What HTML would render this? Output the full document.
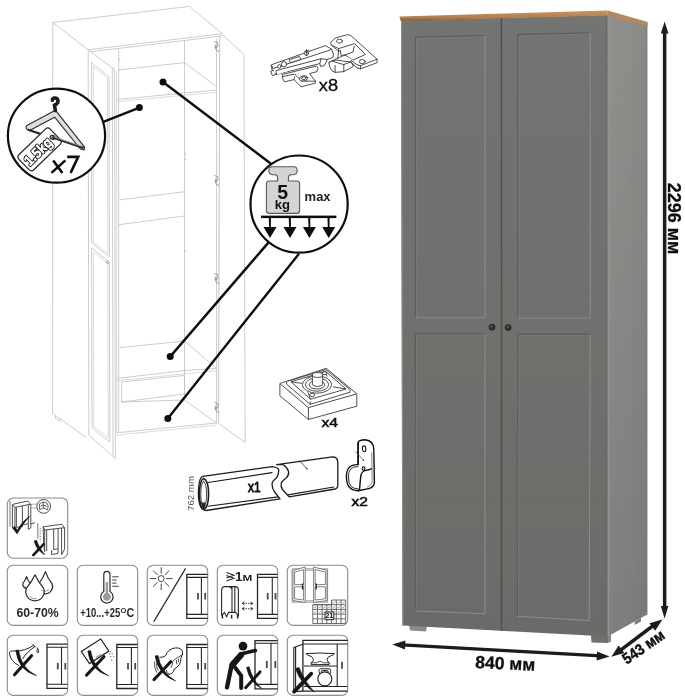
<!DOCTYPE html>
<html><head><meta charset="utf-8">
<style>
html,body{margin:0;padding:0;background:#fff;}
body{width:685px;height:700px;overflow:hidden;font-family:"Liberation Sans",sans-serif;}
svg{display:block}
text{font-family:"Liberation Sans",sans-serif;}
#all{filter:url(#soft2)}
</style></head><body>
<svg width="685" height="700" viewBox="0 0 685 700">
<defs>
<linearGradient id="gFront" x1="0" y1="0" x2="0" y2="1"><stop offset="0" stop-color="#737472"/><stop offset="1" stop-color="#6b6b69"/></linearGradient>
<linearGradient id="gSide" x1="0" y1="0" x2="0" y2="1"><stop offset="0" stop-color="#8f8f8c"/><stop offset="0.5" stop-color="#878785"/><stop offset="1" stop-color="#7e7e7c"/></linearGradient>
<linearGradient id="gSideH" x1="0" y1="0" x2="1" y2="0"><stop offset="0" stop-color="#fff" stop-opacity="0.04"/><stop offset="0.4" stop-color="#000" stop-opacity="0"/><stop offset="1" stop-color="#000" stop-opacity="0.05"/></linearGradient>
<linearGradient id="gWood" x1="0" y1="0" x2="0" y2="1"><stop offset="0" stop-color="#c89660"/><stop offset="0.7" stop-color="#b67d49"/><stop offset="1" stop-color="#7a5232"/></linearGradient>
<filter id="soft2" x="0" y="0" width="100%" height="100%" filterUnits="userSpaceOnUse"><feGaussianBlur stdDeviation="0.35"/></filter>
<filter id="soft" x="-5%" y="-5%" width="110%" height="110%"><feGaussianBlur stdDeviation="0.45"/></filter>
</defs>
<rect width="685" height="700" fill="#fff"/>
<g id="all">


<!-- ===================== LINE DRAWING (left) ===================== -->
<g id="linedraw" fill="none" stroke="#c6c6c6" stroke-width="0.9" stroke-linejoin="round">
<!-- top face -->
<polygon points="52.8,22.5 189.3,6.4 222.4,33.7 88.2,49.8" fill="#fff"/>
<polyline points="88.2,52 118.7,48.4 222,36"/>
<!-- left side -->
<polyline points="52.800,22.500 52.600,413.500 86.400,437.600"/>
<polyline points="55.500,415.600 55.500,418.400 60,421.400 60,418.800"/>
<!-- left door (open) -->
<polygon points="88.200,49.800 114.600,69.600 115.400,458.500 88.800,435" fill="#fff"/>
<line x1="112.300" y1="68" x2="113" y2="456.400"/>
<polygon points="91.400,62.600 109,76.800 109.400,257 91.600,243"/>
<polygon points="91.600,248 109.400,262 109.800,442 92,428"/>
<polygon points="93.200,66.600 107.400,78 107.800,253.600 93.400,242.200" stroke="#d6d6d6"/>
<polygon points="93.400,252 107.800,263.400 108.200,438 93.800,426.600" stroke="#d6d6d6"/>
<!-- carcass opening -->
<line x1="118.700" y1="48.400" x2="118.700" y2="432.600"/>
<line x1="116.600" y1="71.500" x2="116.600" y2="432.800" stroke="#d6d6d6"/>
<line x1="216.600" y1="38.600" x2="216.600" y2="423"/>
<line x1="219.800" y1="36" x2="218.600" y2="423.400"/>
<!-- interior verticals -->
<line x1="184.500" y1="40.200" x2="184.500" y2="400"/>
<!-- top shelf -->
<polyline points="118.700,70 184.500,62.600 216.600,86.800"/>
<polyline points="116.600,99.500 216.600,90"/>
<polyline points="116.600,101.600 216.600,92.200" stroke="#d6d6d6"/>
<!-- mid band -->
<polyline points="118.700,200 184.500,191.700"/><polyline points="118.700,224.700 184.500,216"/>
<!-- lower shelves -->
<polyline points="120,347.600 184.500,341"/>
<polyline points="116.600,378.400 184.500,370.600 216.600,368.400"/>
<polyline points="116.600,380.800 216.600,370.600" stroke="#d6d6d6"/>
<polyline points="184.500,341 216.600,368.400"/>
<polyline points="121.600,382 184.500,375.400 184.500,394 121.600,402 121.600,382"/>
<polyline points="116.600,432.800 216.600,423"/>
<polyline points="116.600,435 216.600,425.200" stroke="#d6d6d6"/>
<polyline points="184.500,400 216.600,423"/>
<line x1="121.600" y1="402" x2="184.500" y2="400"/>
<!-- right door (open) -->
<polygon points="222.400,34.400 243.900,54.600 245.200,442.400 218.600,423.400 219.800,36" fill="#fff"/>
<!-- hinges on right -->
<g stroke="#8a8a8a" stroke-width="0.8">
<path d="M214.200,41.600 l3.400,0.800 l0.400,3.600 l-2.600,0.400 l0.600,3.600 l3.200,1.800 M215,44.600 l2.200,3.400 M214.400,47 l2,1"/>
<path d="M214.200,175.600 l3.400,0.800 l0.400,3.600 l-2.600,0.400 l0.600,3.600 l3.200,1.800 M215,178.600 l2.200,3.400 M214.400,181 l2,1"/>
<path d="M214.200,273.600 l3.400,0.800 l0.400,3.600 l-2.600,0.400 l0.600,3.600 l3.200,1.800 M215,276.600 l2.200,3.400 M214.400,279 l2,1"/>
<path d="M214.200,402.600 l3.400,0.800 l0.400,3.600 l-2.600,0.400 l0.600,3.600 l3.200,1.800 M215,405.600 l2.200,3.400 M214.400,408 l2,1"/>
</g>
<circle cx="107.600" cy="262.400" r="1.300" stroke="#999"/>
<path d="M119.600,58.600 v1.600 M185.600,153 v1.400 M185.600,158.600 v1.400 M185.600,250 v1.400" stroke="#bbb"/>
</g>

<!-- ===================== CALLOUTS ===================== -->
<g id="callouts" stroke="#111" stroke-width="2.4" stroke-linecap="round" fill="none">
<line x1="104" y1="121.6" x2="139.4" y2="107.6"/>
<line x1="163" y1="82" x2="270" y2="163"/>
<line x1="268.6" y1="242.4" x2="170.2" y2="356.6"/>
<line x1="298.4" y1="254.4" x2="167.8" y2="418.6"/>
</g>
<g fill="#111">
<circle cx="139.4" cy="107.6" r="3.5"/><circle cx="163" cy="82" r="3.5"/>
<circle cx="170.2" cy="356.6" r="3.5"/><circle cx="167.8" cy="418.6" r="3.5"/>
</g>
<!-- hanger circle -->
<g id="hanger">
<ellipse cx="56.5" cy="135.7" rx="48.6" ry="47" fill="#fff" stroke="#111" stroke-width="2.2"/>
<!-- hanger body -->
<path d="M26.400,125.800 L55.400,110.200 L84.600,147.200 L84.200,150 L80.400,149 L54.600,117.200 L29.600,130.600 Q24.800,129.400 26.400,125.800 Z" fill="#dedede" stroke="#2a2a2a" stroke-width="1.100" stroke-linejoin="round"/>
<path d="M28.800,130 L48,136.400" fill="none" stroke="#2a2a2a" stroke-width="2.300" stroke-linecap="round"/>
<!-- hook -->
<path d="M55.400,110.600 L54.400,105.200 Q58.200,103.800 58,100.600 Q57.400,97.600 54.400,98 Q52.600,98.400 52.400,100.200" fill="none" stroke="#1a1a1a" stroke-width="3.600" stroke-linecap="round" stroke-linejoin="round"/>
<!-- tag -->
<g transform="translate(39.6,149.4) rotate(-44)">
<rect x="-21.7" y="-10.6" width="43.400" height="21.200" rx="3.400" fill="#fff" stroke="#222" stroke-width="1.200"/>
<text x="-19" y="5.400" font-size="14.600" fill="#fff" stroke="#222" stroke-width="2.300" paint-order="stroke" font-weight="700" textLength="33" lengthAdjust="spacingAndGlyphs" stroke-linejoin="round">1.5kg</text>
<text x="-19" y="5.400" font-size="14.600" fill="#fff" font-weight="700" textLength="33" lengthAdjust="spacingAndGlyphs">1.5kg</text>
</g>
<ellipse cx="52.600" cy="137.400" rx="2.600" ry="1.900" transform="rotate(18 52.6 137.4)" fill="#999" stroke="#222" stroke-width="1"/>
<path d="M53.400,137.600 L82.600,147.600" fill="none" stroke="#2a2a2a" stroke-width="2.400" stroke-linecap="round"/>
<path d="M54.600,137.200 L81,146.200" fill="none" stroke="#bbb" stroke-width="0.700" stroke-linecap="round"/>
<g fill="none" stroke="#111" stroke-width="2.600" stroke-linecap="butt" stroke-linejoin="miter">
<path d="M53.200,160.400 L62.400,172.900 M65.400,160.400 L51.400,172.900"/>
<path d="M67.200,156.900 L78.200,156.900 L70.600,172.900"/>
</g>
</g>
<!-- 5kg circle -->
<g id="load">
<circle cx="299.1" cy="204.1" r="48.6" fill="#fff" stroke="#111" stroke-width="2.2"/>
<path d="M272.4,166.8 H293.6 Q297.2,166.8 297.2,170.6 Q297.2,174.6 293.4,174.8 H291 Q288.4,175 288.4,178 V181 H296.6 Q299.6,181 299.6,184 V210.400 Q299.600,213.400 296.600,213.400 H269.400 Q266.400,213.400 266.400,210.400 V184 Q266.400,181 269.400,181 H277.600 V178 Q277.600,175 275,174.800 H272.600 Q268.800,174.600 268.800,170.600 Q268.800,166.800 272.400,166.800 Z" fill="#d4d4d4" stroke="#5a5a5a" stroke-width="1.1"/>
<text x="282.8" y="199.400" font-size="19.500" font-weight="700" text-anchor="middle" fill="#111">5</text>
<text x="282.300" y="209" font-size="13" font-weight="700" text-anchor="middle" fill="#111">kg</text>
<text x="317.600" y="200.800" font-size="13" font-weight="700" text-anchor="middle" fill="#222">max</text>
<rect x="261" y="215.600" width="75.400" height="2.500" fill="#111"/>
<g fill="#111">
<path d="M268.7,217 h2.200 v10 h5.600 l-6.500,11 l-6.500,-11 h5.600 z"/>
<path d="M288.7,217 h2.200 v10 h5.600 l-6.500,11 l-6.500,-11 h5.600 z"/>
<path d="M308.1,217 h2.200 v10 h5.600 l-6.500,11 l-6.500,-11 h5.600 z"/>
<path d="M327.4,217 h2.200 v10 h5.600 l-6.500,11 l-6.500,-11 h5.600 z"/>
</g>
</g>


<!-- ===================== HARDWARE ===================== -->
<g id="hinge" fill="#fff" stroke="#3a3a3a" stroke-width="0.9" stroke-linejoin="round" stroke-linecap="round">
<!-- mounting plate under arm -->
<path d="M282.6,74.4 L316.6,66 L318,68.4 L317,71.6 L309.6,73.6 L315.4,81.2 L315.2,83.2 L301,86.800 L294,79.600 L284.400,81.800 L282.600,78.600 Z"/>
<path d="M282.6,76.6 L294.6,74 L301.4,81 L315.4,81.2 M294,79.6 L294.6,77"/>
<ellipse cx="303.600" cy="78.400" rx="4.200" ry="2.600" transform="rotate(-12 303.6 78.4)"/>
<ellipse cx="303.900" cy="78.300" rx="2.300" ry="1.400" transform="rotate(-12 303.9 78.300)"/>
<!-- arm -->
<path d="M271.400,64.800 L325.400,45.600 L331.600,49.200 L333.400,54 L333,57.400 L327.600,59.400 L324.400,65.600 L320.600,66.600 L319.800,63.600 L276.600,74.400 L273,72.400 Z"/>
<path d="M273,68.600 L327.800,50.800 L331.600,49.200 M273,68.600 L272,66 M276.600,74.400 L276,70.600 L321,58.800 L327.600,59.400 M321,58.800 L319.800,63.600"/>
<path d="M289.400,59.600 L299.400,56.400 L300.800,59.400 L290.800,62.600 Z"/>
<circle cx="284" cy="64.200" r="2.600"/><circle cx="279.400" cy="66.400" r="1.800"/>
<circle cx="306.400" cy="53.400" r="2"/><path d="M304.800,51.200 L308.200,50.400 M306.600,49.600 L306.400,55.600" />
<path d="M273.600,70.400 L270.600,71.400 L272.400,75.600 L275.600,74.600"/>
<!-- cup body (behind flange) -->
<path d="M328.9,62.7 Q329.4,68.6 331.8,70.6 L335.1,72.4 L343.8,71.6 L353.500,66.200 L350.800,61.800 L352.6,59.2 L345,55 L337.700,58.300 Z"/>
<path d="M328.900,62.700 Q334,58.600 342.100,60.900 Q347,62 350.800,61.800 M335.100,65.400 V72.400 M343.800,64.600 V71.600 M332.400,61 Q337,63 343.800,64.600 L350.800,61.800"/>
<!-- cup flange -->
<path d="M330.700,42.500 L335.100,38.100 L347.300,34.600 L350.800,35.500 L377.100,59.200 L377.100,62.700 L360.500,68.800 L357,67.900 L350.800,61.800 L352.600,59.200 L362.200,53.900 L354.300,46 L340.300,50.400 L338.600,51.300 L331.600,45.100 Z"/>
<path d="M331.600,45.100 L338.600,48.600 L354.600,43.600 L365.400,54.400 L353.400,60 M377.100,59.200 L360.500,65.600 L357,64.800 L351.600,60.600 M360.500,65.600 V68.800 M338.600,48.600 V51.300"/>
<path d="M338.600,51.300 L337.700,58.300 M340.300,50.400 L341,55.400 L345,55 M354.300,46 L353,52 L345,55" />
<ellipse cx="339.500" cy="41.100" rx="3" ry="2"/>
<ellipse cx="362.200" cy="61.600" rx="3" ry="2"/>
</g>
<text x="318.8" y="90.7" font-size="16.8" fill="#111" stroke="#111" stroke-width="0.35" textLength="19.2" lengthAdjust="spacingAndGlyphs">x8</text>

<g id="foot" fill="#fff" stroke="#3a3a3a" stroke-width="0.9" stroke-linejoin="round">
<path d="M279.900,383.500 L326.400,368.300 L356.800,393.900 L356.800,406.200 L308.400,419.500 L279.900,395.800 Z"/>
<path d="M279.900,383.500 L308.400,407.600 L356.800,393.900 M308.400,407.600 L308.400,419.500"/>
<path d="M286.600,381.600 L326,369.600 L350,389.600 L310.200,401.600 Z"/>
<path d="M286.600,381.600 L286.600,384.200 L310.200,404.400 L350,392.200 L350,389.600 M310.200,401.600 L310.200,404.400"/>
<path d="M291,381.800 L325.600,371.400 L346,389 L310.600,399.200 Z"/>
<path d="M291,381.800 L302,383.400 M325.600,371.400 L327,376.600 M346,389 L333,386.800 M310.600,399.200 L308,392.400"/>
<ellipse cx="317" cy="384.600" rx="14.600" ry="8.600"/>
<ellipse cx="317" cy="384.600" rx="11.600" ry="6.600"/>
<ellipse cx="317" cy="384.800" rx="7.800" ry="4.200"/>
<path d="M312.400,375 L312.400,384.800 Q317.600,388.200 322.600,384.800 L322.600,375"/>
<ellipse cx="317.500" cy="375" rx="5.100" ry="2.400"/>
<ellipse cx="324.600" cy="373.200" rx="2.300" ry="1.500"/>
<ellipse cx="312.200" cy="395" rx="2.500" ry="1.600"/>
</g>
<text x="321.5" y="426.5" font-size="12.8" fill="#111" stroke="#111" stroke-width="0.5" textLength="16.6" lengthAdjust="spacingAndGlyphs">x4</text>

<g id="rail" fill="#fff" stroke="#1c1c1c" stroke-width="1.3" stroke-linejoin="round" stroke-linecap="round">
<text x="0" y="0" transform="translate(194,511) rotate(-90)" font-size="9.2" fill="#555" stroke="none" textLength="35" lengthAdjust="spacingAndGlyphs">762 mm</text>
<!-- left piece -->
<path d="M202.8,476.4 L272.1,466.700 Q279.600,467.600 278.700,471.300 Q278.400,474.600 276.700,477.800 Q271.600,481.400 272.100,484.400 Q272.100,488 274,491 Q276.600,494.600 280,498.900 L206.300,510.500 Q198.600,510.400 198.400,494 Q198.600,477 202.800,476.400 Z"/>
<path d="M208,482.500 L272.100,472.600 M208,506.200 L278,496.900" fill="none" stroke-width="1.1"/>
<path d="M203.600,478.400 Q208.600,480.400 208.600,494 Q208.400,507 204,509.600 Q199.600,508.400 199.400,494 Q199.600,480.400 203.600,478.400 Z" stroke-width="1.6"/>
<path d="M203.600,481.400 Q206.600,483.400 206.600,494 Q206.400,501.600 205.600,503 L201.600,503 Q200.800,500 200.800,494 Q200.800,483.400 203.600,481.400 Z" fill="#fff" stroke-width="0.8"/>
<path d="M201.600,503.200 L205.600,503.200 Q205,508 203.800,509 Q202,508 201.600,503.200 Z" fill="#222" stroke-width="0.6"/>
<!-- right piece -->
<path d="M276.700,464.700 L332.500,456.800 Q337.600,456.800 337.800,462.100 L337.800,485.700 Q337.600,488.400 335.100,489 L289.200,496.900 Q285.400,492.600 282.600,489.700 Q280.400,486.400 281.300,483.100 Q282.600,480.400 286.500,477.800 Q289.400,474.600 288.500,471.300 Q287.600,467.600 283.200,464.700 Z"/>
<path d="M287.800,494.900 L333.800,487" fill="none" stroke-width="1.1"/>
<path d="M299.700,460.800 L306.600,468.400" stroke="#333" stroke-width="0.8"/><circle cx="306.900" cy="468.700" r="0.800" fill="#222" stroke="none"/>
</g>
<text x="248.1" y="492.2" font-size="15.5" fill="#111" stroke="#111" stroke-width="0.9" textLength="12.6" lengthAdjust="spacingAndGlyphs">x1</text>

<g id="bracket" fill="#fff" stroke="#111" stroke-width="1.4" stroke-linejoin="round" stroke-linecap="round">
<path d="M358.1,442.6 Q358.6,439.8 365.300,439.700 Q373.600,440.600 373.800,449.400 L374.400,482.600 Q373.600,487.600 368.600,488.600 L358.100,490.700 Z"/>
<path d="M371.800,453 L372.200,482 Q371.400,486 367.400,487" fill="none" stroke-width="0.8" stroke="#666"/>
<path d="M358.100,464.600 Q352,464.400 349.200,467.400 Q346.200,471 346.400,477 Q346.600,484 349.600,487.600 Q352.600,490.600 358.100,490.700 L359.600,489 Q360.200,480 361,474.600 Q362,471.600 364.600,470.600 L367.800,470 L371.400,468.800" fill="#fff"/>
<path d="M358.100,466.600 Q353,466.400 350.600,469 Q348.200,472 348.400,477 Q348.600,483.400 351,486.400 Q353.600,488.800 357.800,488.800" fill="none" stroke-width="0.9"/>
<path d="M358.100,442.600 V464.600" />
<ellipse cx="364.100" cy="448.800" rx="1.700" ry="2.900" transform="rotate(-8 364.1 448.8)" stroke-width="1.1"/>
<ellipse cx="363.600" cy="468.600" rx="1.400" ry="1.700" stroke-width="1.1"/>
<path d="M355.600,451.800 L363.300,460" stroke-width="0.7" stroke="#444"/><circle cx="363.500" cy="460.300" r="0.700" fill="#222" stroke="none"/>
</g>
<text x="351.4" y="505.8" font-size="13.6" fill="#111" stroke="#111" stroke-width="0.6" textLength="16.4" lengthAdjust="spacingAndGlyphs">x2</text>

<!-- ===================== ICONS ===================== -->
<g id="icons">
<rect x="7.3" y="498" width="60.4" height="60.2" rx="6" fill="#fff" stroke="#8c8c8c" stroke-width="1.1"/>
<g fill="none" stroke="#3a3a3a" stroke-width="0.9" stroke-linejoin="round">
<path d="M10,501 V526.8" stroke="#666"/>
<path d="M12.4,504.4 L27.8,501 L30.8,504.4 V527.8 L28.3,529.3 V504.6 L14.9,507.4 V527.8 L12.4,527.8 Z"/>
<path d="M12.4,504.4 L14.9,507.4 M28.3,504.6 L30.8,504.4 M16.4,507.2 V527.4 M22.4,506 V524.8 L28.3,523.8 M16.4,527.4 L22.4,526.4 V524.8 M30.8,523.8 L34.8,522.8"/>
<circle cx="43.7" cy="506.4" r="6.9"/>
<path d="M39.6,503.6 L43.2,502 L46.6,503 L48.2,505.6 M39.6,503.6 V509.6 L43.4,508 L47.6,509.8 L48.2,505.6 M43.2,502 L43.4,508 M40.6,506 L43,505 L46.8,506.4" stroke-width="0.8"/>
<path d="M30.8,504.4 L37,504 M30.8,507.6 L37.2,508.6" stroke="#888" stroke-width="0.6"/>
<path d="M37.8,523.3 V538.7" stroke="#666"/>
<path d="M40.2,527.8 V542" stroke-dasharray="1.4 1.3" stroke="#666"/>
<path d="M43.2,526.8 L61.6,524.3 L64.6,527.8 V549.1 L61.6,554.6 V528 L44.7,530 V551.6 L43.6,542 Z"/>
<path d="M43.2,526.8 L44.7,530 M61.6,528 L64.6,527.8 M46.7,530 V551 M53.7,529 V549.6 L58.1,548.8 V528.6 M51.7,554.6 L58.1,553.2 V548.8 M51.7,554.6 V550"/>
</g>
<path d="M12.7,527.9 L14.7,526.4 L17.3,530.2 Q22,521.6 29.5,516.2 Q22.6,524 17,533.8 Z" fill="#141414" stroke="#141414" stroke-width="0.7" stroke-linejoin="round"/>
<path d="M36.5,540.3 Q39.6,549.3 44.9,554.8 Q37,551.2 34.1,541.1 Z" fill="#141414" stroke="#141414" stroke-width="0.6" stroke-linejoin="round"/><path d="M43.7,544.2 L33.3,555.1" fill="none" stroke="#141414" stroke-width="2.6" stroke-linecap="round"/>
<rect x="7.3" y="565.2" width="60.4" height="60.2" rx="6" fill="#fff" stroke="#8c8c8c" stroke-width="1.1"/>
<g fill="#fff" stroke="#2a2a2a" stroke-width="1.2" stroke-linejoin="round"><path d="M45.4,571.6 Q47.6,578.3 52,583.7 A7.2,7.2 0 1 1 38.8,583.7 Q43.2,578.3 45.4,571.6 Z"/><path d="M26.6,576.6 Q27.7,580.2 30.1,583.1 A3.8,3.8 0 1 1 23.1,583.1 Q25.5,580.2 26.6,576.6 Z"/><path d="M35,574.8 Q37.8,581.2 43.5,588.1 A9.2,9.2 0 1 1 26.5,588.1 Q32.2,581.2 35,574.8 Z"/></g>
<path d="M29.6,596.4 Q32.4,599.4 36.6,598.8 M41.4,590.4 Q45,592.4 49.4,589.8 M24.4,586.6 Q26,587.8 28,587.4" fill="none" stroke="#666" stroke-width="0.7"/>
<text x="37.6" y="616.6" font-size="12.4" font-weight="700" text-anchor="middle" fill="#2a2a2a" textLength="42.4" lengthAdjust="spacingAndGlyphs">60-70%</text>
<rect x="77.3" y="565.2" width="60.4" height="60.2" rx="6" fill="#fff" stroke="#8c8c8c" stroke-width="1.1"/>
<g stroke="#2a2a2a" stroke-width="1.2" fill="#fff">
<path d="M103.8,591.6 V574.6 Q103.8,571.4 106.9,571.4 Q110,571.4 110,574.6 V591.6 A6.2,6.2 0 1 1 103.8,591.6 Z"/>
<path d="M105.7,593 V582 H108.1 V593 A4,4 0 1 1 105.7,593 Z" fill="#9a9a9a" stroke="none"/>
<path d="M112.2,576.8 H118.6 M112.2,580 H116.6 M112.2,583.1 H116.6 M112.2,586.3 H118.6" stroke-width="0.9" fill="none"/></g>
<text x="80.2" y="616.6" font-size="12.4" font-weight="700" fill="#2a2a2a" textLength="40" lengthAdjust="spacingAndGlyphs">+10...+25</text>
<text x="120.6" y="612.6" font-size="7.6" font-weight="700" fill="#2a2a2a">O</text>
<text x="126.6" y="616.6" font-size="12.4" font-weight="700" fill="#2a2a2a" textLength="7.8" lengthAdjust="spacingAndGlyphs">C</text>
<rect x="147.3" y="565.2" width="60.4" height="60.2" rx="6" fill="#fff" stroke="#8c8c8c" stroke-width="1.1"/>
<g fill="none" stroke="#3a3a3a" stroke-width="0.95"><circle cx="161.2" cy="578.6" r="3"/><path d="M166.2,578.6 L172.6,578.6 M164.7,582.1 L169.3,586.7 M161.2,583.6 L161.2,590 M157.7,582.1 L153.1,586.7 M156.2,578.6 L149.8,578.6 M157.7,575.1 L153.1,570.5 M161.2,573.6 L161.2,567.2 M164.7,575.1 L169.3,570.5 "/><path d="M185.6,568.4 L153.8,621.6" stroke="#2a2a2a" stroke-width="1.2"/></g>
<g fill="none" stroke="#262626" stroke-width="1.3" stroke-linejoin="miter">
<path d="M207.6,574.4 H186.8 V618.4 H207.6"/>
<path d="M186.8,577.4 H207.6 M186.8,614.4 H207.6 M201.4,577.4 V614.4" stroke-width="1.1"/>
<path d="M198,593.1 V599.4 M205.2,593.1 V599.4" stroke-width="1.8" stroke="#4a4a4a"/></g>
<rect x="217.3" y="565.2" width="60.4" height="60.2" rx="6" fill="#fff" stroke="#8c8c8c" stroke-width="1.1"/>
<g fill="none" stroke="#2a2a2a" stroke-width="1.1">
<path d="M226.4,572.4 L234,575.2 L226.4,578 M226.4,575.4 L234,578.2 L226.4,581" stroke-width="1.1"/>
<path d="M221.6,615.6 V590 Q221.6,586.6 225,586.6 H235 Q238.4,586.6 238.4,590 V615.6 L235.6,612.4 H228.6 L226.6,616.8 L224.4,612.4 L221.6,615.6 M232,587 V612.4 M234.8,587 V612.4 M229.4,587.4 Q231.4,587 232,589"/>
<path d="M222.4,615 V618.4 M231.6,615 V618.4 M237.6,615 V618.4" stroke-width="1.5"/>
<path d="M243,603.4 H252 M243,608.7 H252" stroke-dasharray="1.5 1" stroke-width="0.9"/>
<path d="M244.4,602 L242,603.4 L244.4,604.8 M250.6,602 L253,603.4 L250.6,604.8 M244.4,607.3 L242,608.7 L244.4,610.1 M250.6,607.3 L253,608.7 L250.6,610.1" stroke-width="0.9"/>
</g>
<text x="235" y="581.4" font-size="13.4" font-weight="700" fill="#222">1</text><text x="242.6" y="581.4" font-size="9.8" font-weight="700" fill="#222" textLength="9.8" lengthAdjust="spacingAndGlyphs">M</text>
<g fill="none" stroke="#262626" stroke-width="1.3" stroke-linejoin="miter">
<path d="M277.6,574.4 H257.5 V618.4 H277.6"/>
<path d="M257.5,577.4 H277.6 M257.5,614.4 H277.6 M272.3,577.4 V614.4" stroke-width="1.1"/>
<path d="M267.7,593.1 V599.4 M275.5,593.1 V599.4" stroke-width="1.8" stroke="#4a4a4a"/></g>
<rect x="287.3" y="565.2" width="60.4" height="60.2" rx="6" fill="#fff" stroke="#8c8c8c" stroke-width="1.1"/>
<g fill="none" stroke="#6a6a6a" stroke-width="0.85" stroke-linejoin="round"><path d="M292,568.8 H327.6 V602.2 H292 Z M293.4,570.2 H326.2 V600.8 H293.4 Z" stroke="#8a8a8a"/><path d="M293,570.4 L305.2,567 V602.4 L293,600.6 Z M294.6,572 L303.6,569.6 V584.6 H294.6 Z M294.6,586.8 H303.6 V600 L294.6,598.8 Z" fill="#fff"/><path d="M327,570.4 L313.6,567 V602.4 L327,600.6 Z M325.4,572 L315.2,569.6 V584.6 H325.4 Z M325.4,586.8 H315.2 V600 L325.4,598.8 Z" fill="#fff"/><path d="M302.6,583.4 V589.6 M316.2,583.4 V589.6" stroke="#333" stroke-width="1.5"/><path d="M331.6,600 H345.7 V623.5 H312.8 V604.7 H331.6 Z" fill="#fff" stroke="#555"/><path d="M312.8,604.7 H345.7 M312.8,609.4 H345.7 M312.8,614.1 H345.7 M312.8,618.8 H345.7 M317.5,604.7 V623.5 M322.2,604.7 V623.5 M326.9,604.7 V623.5 M331.6,600 V623.5 M336.3,600 V623.5 M341,600 V623.5" stroke="#555"/><path d="M332.8,602.4 l0.9,1 l1.5,-2 M337.5,602.4 l0.9,1 l1.5,-2 M342.2,602.4 l0.9,1 l1.5,-2 M314,607.1 l0.9,1 l1.5,-2 M318.7,607.1 l0.9,1 l1.5,-2 M323.4,607.1 l0.9,1 l1.5,-2 M328.1,607.1 l0.9,1 l1.5,-2 M332.8,607.1 l0.9,1 l1.5,-2 M337.5,607.1 l0.9,1 l1.5,-2 M342.2,607.1 l0.9,1 l1.5,-2 M314,611.8 l0.9,1 l1.5,-2 M318.7,611.8 l0.9,1 l1.5,-2 M323.4,611.8 l0.9,1 l1.5,-2 M328.1,611.8 l0.9,1 l1.5,-2 M332.8,611.8 l0.9,1 l1.5,-2 M337.5,611.8 l0.9,1 l1.5,-2 M342.2,611.8 l0.9,1 l1.5,-2" stroke="#888" stroke-width="0.7"/><rect x="325" y="612" width="8.8" height="7.7" fill="#eee" stroke="#222" stroke-width="1"/></g><text x="329.4" y="618.4" font-size="6.8" font-weight="700" text-anchor="middle" fill="#111">21</text>
<rect x="7.3" y="635.2" width="60.4" height="60.2" rx="6" fill="#fff" stroke="#8c8c8c" stroke-width="1.1"/>
<g fill="none" stroke="#222" stroke-width="1" stroke-linejoin="round" stroke-linecap="round">
<path d="M33.2,644.6 L35.2,646.9 M33.6,645.4 Q24,651.6 15,651 Q9.2,650.4 9.4,653.2 Q10.4,661.4 18.8,665.6 M34.8,646.6 Q25,653.6 23,658.6"/>
<path d="M37.5,648.2 Q39.8,651.6 37.9,653 Q35.8,652 37.5,648.2 Z" stroke-width="0.9"/></g>
<path d="M18.6,650 Q21.4,668.6 36.5,675.5 Q18.5,670.9 15.8,650.4 Z" fill="#141414" stroke="#141414" stroke-width="0.6" stroke-linejoin="round"/><path d="M31.6,655.7 L14.5,674.8" fill="none" stroke="#141414" stroke-width="3" stroke-linecap="round"/>
<g fill="none" stroke="#262626" stroke-width="1.3" stroke-linejoin="miter">
<path d="M67.6,644.1 H47 V688.3 H67.6"/>
<path d="M47,647.2 H67.6 M47,684.2 H67.6 M61.5,647.2 V684.2" stroke-width="1.1"/>
<path d="M57.8,663.1 V669.4 M65.3,663.1 V669.4" stroke-width="1.8" stroke="#4a4a4a"/></g>
<rect x="77.3" y="635.2" width="60.4" height="60.2" rx="6" fill="#fff" stroke="#8c8c8c" stroke-width="1.1"/>
<g fill="none" stroke="#222" stroke-width="1.2" stroke-linejoin="miter">
<path d="M81.3,651.5 L100.7,639 L108.9,651.1 L89.5,663.6 Z"/>
<path d="M96,657.4 L101,654.3" stroke-width="0.8" stroke="#666"/></g>
<g fill="#666"><circle cx="110.5" cy="651.8" r="0.65"/><circle cx="109.5" cy="654.1" r="0.65"/><circle cx="112.2" cy="653.8" r="0.65"/><circle cx="110.5" cy="656.7" r="0.65"/><circle cx="113.8" cy="656.7" r="0.65"/><circle cx="111.8" cy="660" r="0.65"/></g>
<path d="M90.6,650.6 Q93.4,668.2 108.6,675.8 Q90.4,670.4 87.8,651 Z" fill="#141414" stroke="#141414" stroke-width="0.6" stroke-linejoin="round"/><path d="M104,656.7 L86.5,675.1" fill="none" stroke="#141414" stroke-width="3" stroke-linecap="round"/>
<g fill="none" stroke="#262626" stroke-width="1.3" stroke-linejoin="miter">
<path d="M137.6,644.5 H116.8 V688.5 H137.6"/>
<path d="M116.8,647.5 H137.6 M116.8,684.5 H137.6 M131.4,647.5 V684.5" stroke-width="1.1"/>
<path d="M128,663.1 V669.4 M135.2,663.1 V669.4" stroke-width="1.8" stroke="#4a4a4a"/></g>
<rect x="147.3" y="635.2" width="60.4" height="60.2" rx="6" fill="#fff" stroke="#8c8c8c" stroke-width="1.1"/>
<g fill="none" stroke="#222" stroke-width="1" stroke-linejoin="round" stroke-linecap="round">
<path d="M159.8,657.4 Q163.6,657.4 165.7,655.7 Q166.6,652.4 169,650.5 Q172,648 175.6,647.9 Q179.4,647.6 180.9,649.2 Q182.8,651 182.5,653.1 Q182.4,655.6 180.9,657.7 Q181,662 179.5,664.3 Q177.6,667.4 174.3,668.9 Q173.6,672 171.7,673.5 Q170,674.6 168.4,674.1"/>
<path d="M182.4,654.4 Q178,657.6 174.3,659.7 Q172.6,661 172.3,663 Q172.6,665.6 171,667.6 M176.4,660.4 L176.8,664 M178.4,659.2 L178.6,662" stroke-width="0.8"/>
<path d="M154.6,661.7 Q153.8,667 156.5,672.2 M156.6,663 Q156,667 158,670.4 M166.4,670.4 Q166.8,672.6 168.4,674.1" stroke-width="0.8"/></g>
<path d="M157.9,655.5 Q161,672.3 175.6,681 Q158.1,674.6 155.1,655.9 Z" fill="#141414" stroke="#141414" stroke-width="0.6" stroke-linejoin="round"/><path d="M170.7,661.7 L153.9,679.7" fill="none" stroke="#141414" stroke-width="3" stroke-linecap="round"/>
<g fill="none" stroke="#262626" stroke-width="1.3" stroke-linejoin="miter">
<path d="M207.6,644.5 H186.8 V688.5 H207.6"/>
<path d="M186.8,647.5 H207.6 M186.8,684.5 H207.6 M201.4,647.5 V684.5" stroke-width="1.1"/>
<path d="M198,663.1 V669.4 M205.2,663.1 V669.4" stroke-width="1.8" stroke="#4a4a4a"/></g>
<rect x="217.3" y="635.2" width="60.4" height="60.2" rx="6" fill="#fff" stroke="#8c8c8c" stroke-width="1.1"/>
<g fill="none" stroke="#262626" stroke-width="1.3" stroke-linejoin="miter">
<path d="M277.6,640.6 H255 V688.8 H277.6"/>
<path d="M255,643.2 H277.6 M255,684.4 H277.6 M271,643.2 V684.4" stroke-width="1.1"/>
<path d="M266.8,661 V668 M275.3,661 V668" stroke-width="1.8" stroke="#4a4a4a"/></g>
<circle cx="243" cy="646.1" r="4.4" fill="#141414"/>
<g fill="none" stroke="#141414" stroke-linecap="round" stroke-linejoin="round">
<path d="M241,655 L232.6,664.6" stroke-width="6.2"/>
<path d="M242.6,653.4 L255.4,650.6" stroke-width="3.6"/>
<path d="M231.4,666 L227,687.4" stroke-width="4.4"/>
<path d="M234.4,666.6 L241.2,675.6 L241.2,688" stroke-width="4"/>
</g>
<path d="M249.1,666.8 Q252.7,680.8 261.8,688.5 Q249.7,682.8 246.5,667.4 Z" fill="#141414" stroke="#141414" stroke-width="0.6" stroke-linejoin="round"/><path d="M260,671.9 L245.6,687.7" fill="none" stroke="#141414" stroke-width="2.9" stroke-linecap="round"/>
<rect x="287.3" y="635.2" width="60.4" height="60.2" rx="6" fill="#fff" stroke="#8c8c8c" stroke-width="1.1"/>
<g fill="none" stroke="#222" stroke-width="1.3" stroke-linejoin="round">
<path d="M347.6,640.3 H302.9 V691.1 H347.6"/>
<path d="M302.9,644 H347.6 M304,666 H336.6 M337.2,644 V686.5 M304,686.5 H347.6" stroke-width="1.1"/>
<path d="M302.9,644.3 L293.8,647.4 V691.6 L302.9,691.1 M295.6,647 V691.4" stroke-width="1.1"/>
<path d="M342,661.8 V668.8" stroke-width="1.8" stroke="#4a4a4a"/>
<path d="M306,653.6 Q320,652.4 334.4,653.6 Q333.6,655 331,655.8 Q327,657 327,659.6 Q327.4,662 329.2,662.6 V664.6 H311.2 V662.6 Q313.4,662 313.4,659.6 Q313,657 311,656.4 Q307.6,655.6 306,653.6 Z" fill="#fff" stroke-width="1"/>
<path d="M311.2,662.8 H317 L319,661.4 H321.4 L323,662.8 H329.2" stroke-width="0.8"/>
<circle cx="324.8" cy="678.9" r="7" fill="#fff" stroke-width="1.1"/>
<path d="M319.8,674 Q317.6,669 320.6,668.8 H329 Q332,669 329.8,674 M321.8,672.6 Q320.6,670.6 322.4,670.6 H327.2 Q329,670.6 327.8,672.6" fill="none" stroke-width="1"/>
</g>
<path d="M298.9,667.4 Q304.6,681.6 314.3,692 Q300.7,684.4 295.5,668.6 Z" fill="#141414" stroke="#141414" stroke-width="0.6" stroke-linejoin="round"/><path d="M311.2,673.7 L294.1,691.6" fill="none" stroke="#141414" stroke-width="3.8" stroke-linecap="round"/>
</g>

<!-- ===================== WARDROBE (right) ===================== -->
<g id="wardrobe" filter="url(#soft)">
<!-- feet -->
<polygon points="409,625 427,626 426,631.5 410,630.5" fill="#8a8a88"/>
<polygon points="591,635 608,636 608,643 591.5,642.4" fill="#6f6f6d"/>
<polygon points="608,636 611,634.5 611,641.4 608,643" fill="#858583"/>
<polygon points="634.6,621.4 641,617.800 641,621.400 634.600,625" fill="#7d7d7b"/>
<!-- side -->
<polygon points="607.7,15 647.2,25.3 647.2,614.6 607.7,636.6" fill="url(#gSide)"/>
<polygon points="607.7,15 647.2,25.3 647.2,614.6 607.7,636.6" fill="url(#gSideH)"/>
<line x1="646.8" y1="25.5" x2="646.8" y2="614.6" stroke="#7a7a78" stroke-width="1"/>
<!-- front -->
<polygon points="401,20.4 607.7,15 607.7,636.6 402.4,625.4" fill="url(#gFront)"/>
<!-- corner highlight/shadow -->
<line x1="606.9" y1="15.4" x2="606.9" y2="636.4" stroke="#686967" stroke-width="1.2"/>
<line x1="608.6" y1="15.4" x2="608.6" y2="636" stroke="#939390" stroke-width="1.2"/>
<line x1="401.5" y1="20.6" x2="402.9" y2="625.4" stroke="#8f908d" stroke-width="1.1"/>
<!-- door split -->
<line x1="501.4" y1="17.8" x2="501.6" y2="631" stroke="#4f504e" stroke-width="1.5"/>
<!-- door panels: dark top/left bevel, light right/bottom bevel -->
<g fill="none" stroke="#5c5d5b" stroke-width="1.2">
<polyline points="415.4,317.8 415.4,37.2 485,35.6"/>
<polyline points="415.5,611 415.4,334 485,334"/>
<polyline points="517.7,318 517.7,34.6 590.2,32.8"/>
<polyline points="517.4,616.2 517.7,334.2 590.2,334.4"/>
</g>
<g fill="none" stroke="#8b8d8a" stroke-width="1.1">
<polyline points="485,35.6 485,317.8 415.4,317.8"/>
<polyline points="485,334 485,613.8 415.5,611"/>
<polyline points="590.2,32.8 590.2,318 517.7,318"/>
<polyline points="590.2,334.4 589.2,620.6 517.4,616.2"/>
</g>
<g fill="none" stroke="#7d7f7c" stroke-width="0.7">
<polyline points="416.6,316.8 416.6,38.4 484,36.8"/>
<polyline points="416.7,610 416.6,335.2 484,335.200"/>
<polyline points="518.9,317 518.9,35.800 589.200,34"/>
<polyline points="518.700,615.200 518.900,335.400 589.200,335.600"/>
</g>
<!-- knobs -->
<circle cx="492" cy="327.2" r="3.4" fill="#2e2e2e"/>
<circle cx="508.2" cy="327.6" r="3.4" fill="#2e2e2e"/>
<circle cx="491.4" cy="326.4" r="1.2" fill="#555"/>
<circle cx="507.6" cy="326.8" r="1.2" fill="#555"/>
<!-- wood top -->
<polygon points="399.4,16.6 607.7,10.4 607.7,15.6 400.6,20.8" fill="url(#gWood)"/>
<polygon points="607.7,10.4 647.8,22 647.8,26 607.7,15.6" fill="#b98858"/>
</g>

<!-- ===================== DIMENSION ARROWS ===================== -->
<g id="dims" fill="#1c1c1c" stroke="none">
<!-- height -->
<rect x="662.9" y="31" width="3.5" height="578"/>
<polygon points="664.6,21.4 668.4,33.4 660.8,33.4"/>
<polygon points="664.6,618.6 668.4,606 660.8,606"/>
<!-- width -->
<polygon points="402,643.3 601,654.3 601,657.5 402,646.500"/>
<polygon points="392.4,644.400 405.400,640.600 405,649.400"/>
<polygon points="609.6,656.600 596.600,660.400 597,651.600"/>
<!-- depth -->
<polygon points="618.6,649.4 653.8,623 655.900,625.800 620.700,652.200"/>
<polygon points="611.4,656.800 618.600,645.400 624.400,653"/>
<polygon points="662.4,619.400 655.200,630.800 649.400,623.200"/>
</g>
<g font-weight="700" fill="#111" stroke="#111" stroke-width="0.3">
<text x="0" y="0" font-size="18" text-anchor="middle" transform="translate(667.8,218.5) rotate(90)">2296 мм</text>
<text x="0" y="0" font-size="17.6" text-anchor="middle" transform="translate(505,669.4) rotate(2.6)">840 мм</text>
<text x="-23.8" y="0" font-size="15.4" textLength="47.600" lengthAdjust="spacingAndGlyphs" transform="translate(646.4,651.2) rotate(-34.500)" stroke="#111" stroke-width="0.45">543 мм</text>
</g>
</g>
</svg>
</body></html>
